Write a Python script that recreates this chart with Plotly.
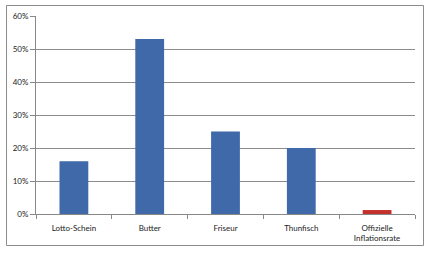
import plotly.graph_objects as go

categories = ["Lotto-Schein", "Butter", "Friseur", "Thunfisch", "Offizielle<br>Inflationsrate"]
values = [0.16, 0.53, 0.25, 0.20, 0.012]
colors = ["#3F69A9", "#3F69A9", "#3F69A9", "#3F69A9", "#C4302B"]
y_ticks = [0, 0.1, 0.2, 0.3, 0.4, 0.5, 0.6]
y_ticklabels = ["0%", "10%", "20%", "30%", "40%", "50%", "60%"]

W, H = 431, 257
L, R, T, B = 36, 16, 16, 43
pw, ph = W - L - R, H - T - B

def px(x):
    return (x - L) / pw

def py(y):
    return (H - B - y) / ph

fig = go.Figure(go.Bar(x=categories, y=values, marker_color=colors, marker_line_width=0, width=0.38))

fig.update_layout(
    width=W, height=H,
    margin=dict(l=L, r=R, t=T, b=B),
    paper_bgcolor="white", plot_bgcolor="white",
    font=dict(family="Lato, Liberation Sans, sans-serif", size=8, color="#222"),
    showlegend=False,
    xaxis=dict(type="category", tickson="boundaries", ticks="outside", ticklen=4,
               tickcolor="#888", showline=True, linecolor="#888", linewidth=1,
               showgrid=False, range=[-0.5, 4.5], tickfont=dict(size=8),
               ticklabelstandoff=6),
    yaxis=dict(range=[0, 0.6], tickvals=y_ticks, ticktext=y_ticklabels, ticks="outside",
               ticklen=5, tickcolor="#888", showline=True, linecolor="#888", linewidth=1,
               showgrid=True, gridcolor="#8c8c8c", gridwidth=1, zeroline=False,
               tickfont=dict(size=8)),
    shapes=[dict(type="rect", xref="paper", yref="paper",
                 x0=px(6.5), x1=px(423.5), y0=py(245.5), y1=py(5.5),
                 line=dict(color="#8c8c8c", width=1), fillcolor="rgba(0,0,0,0)", layer="below")],
)

fig.write_html("out.html")
